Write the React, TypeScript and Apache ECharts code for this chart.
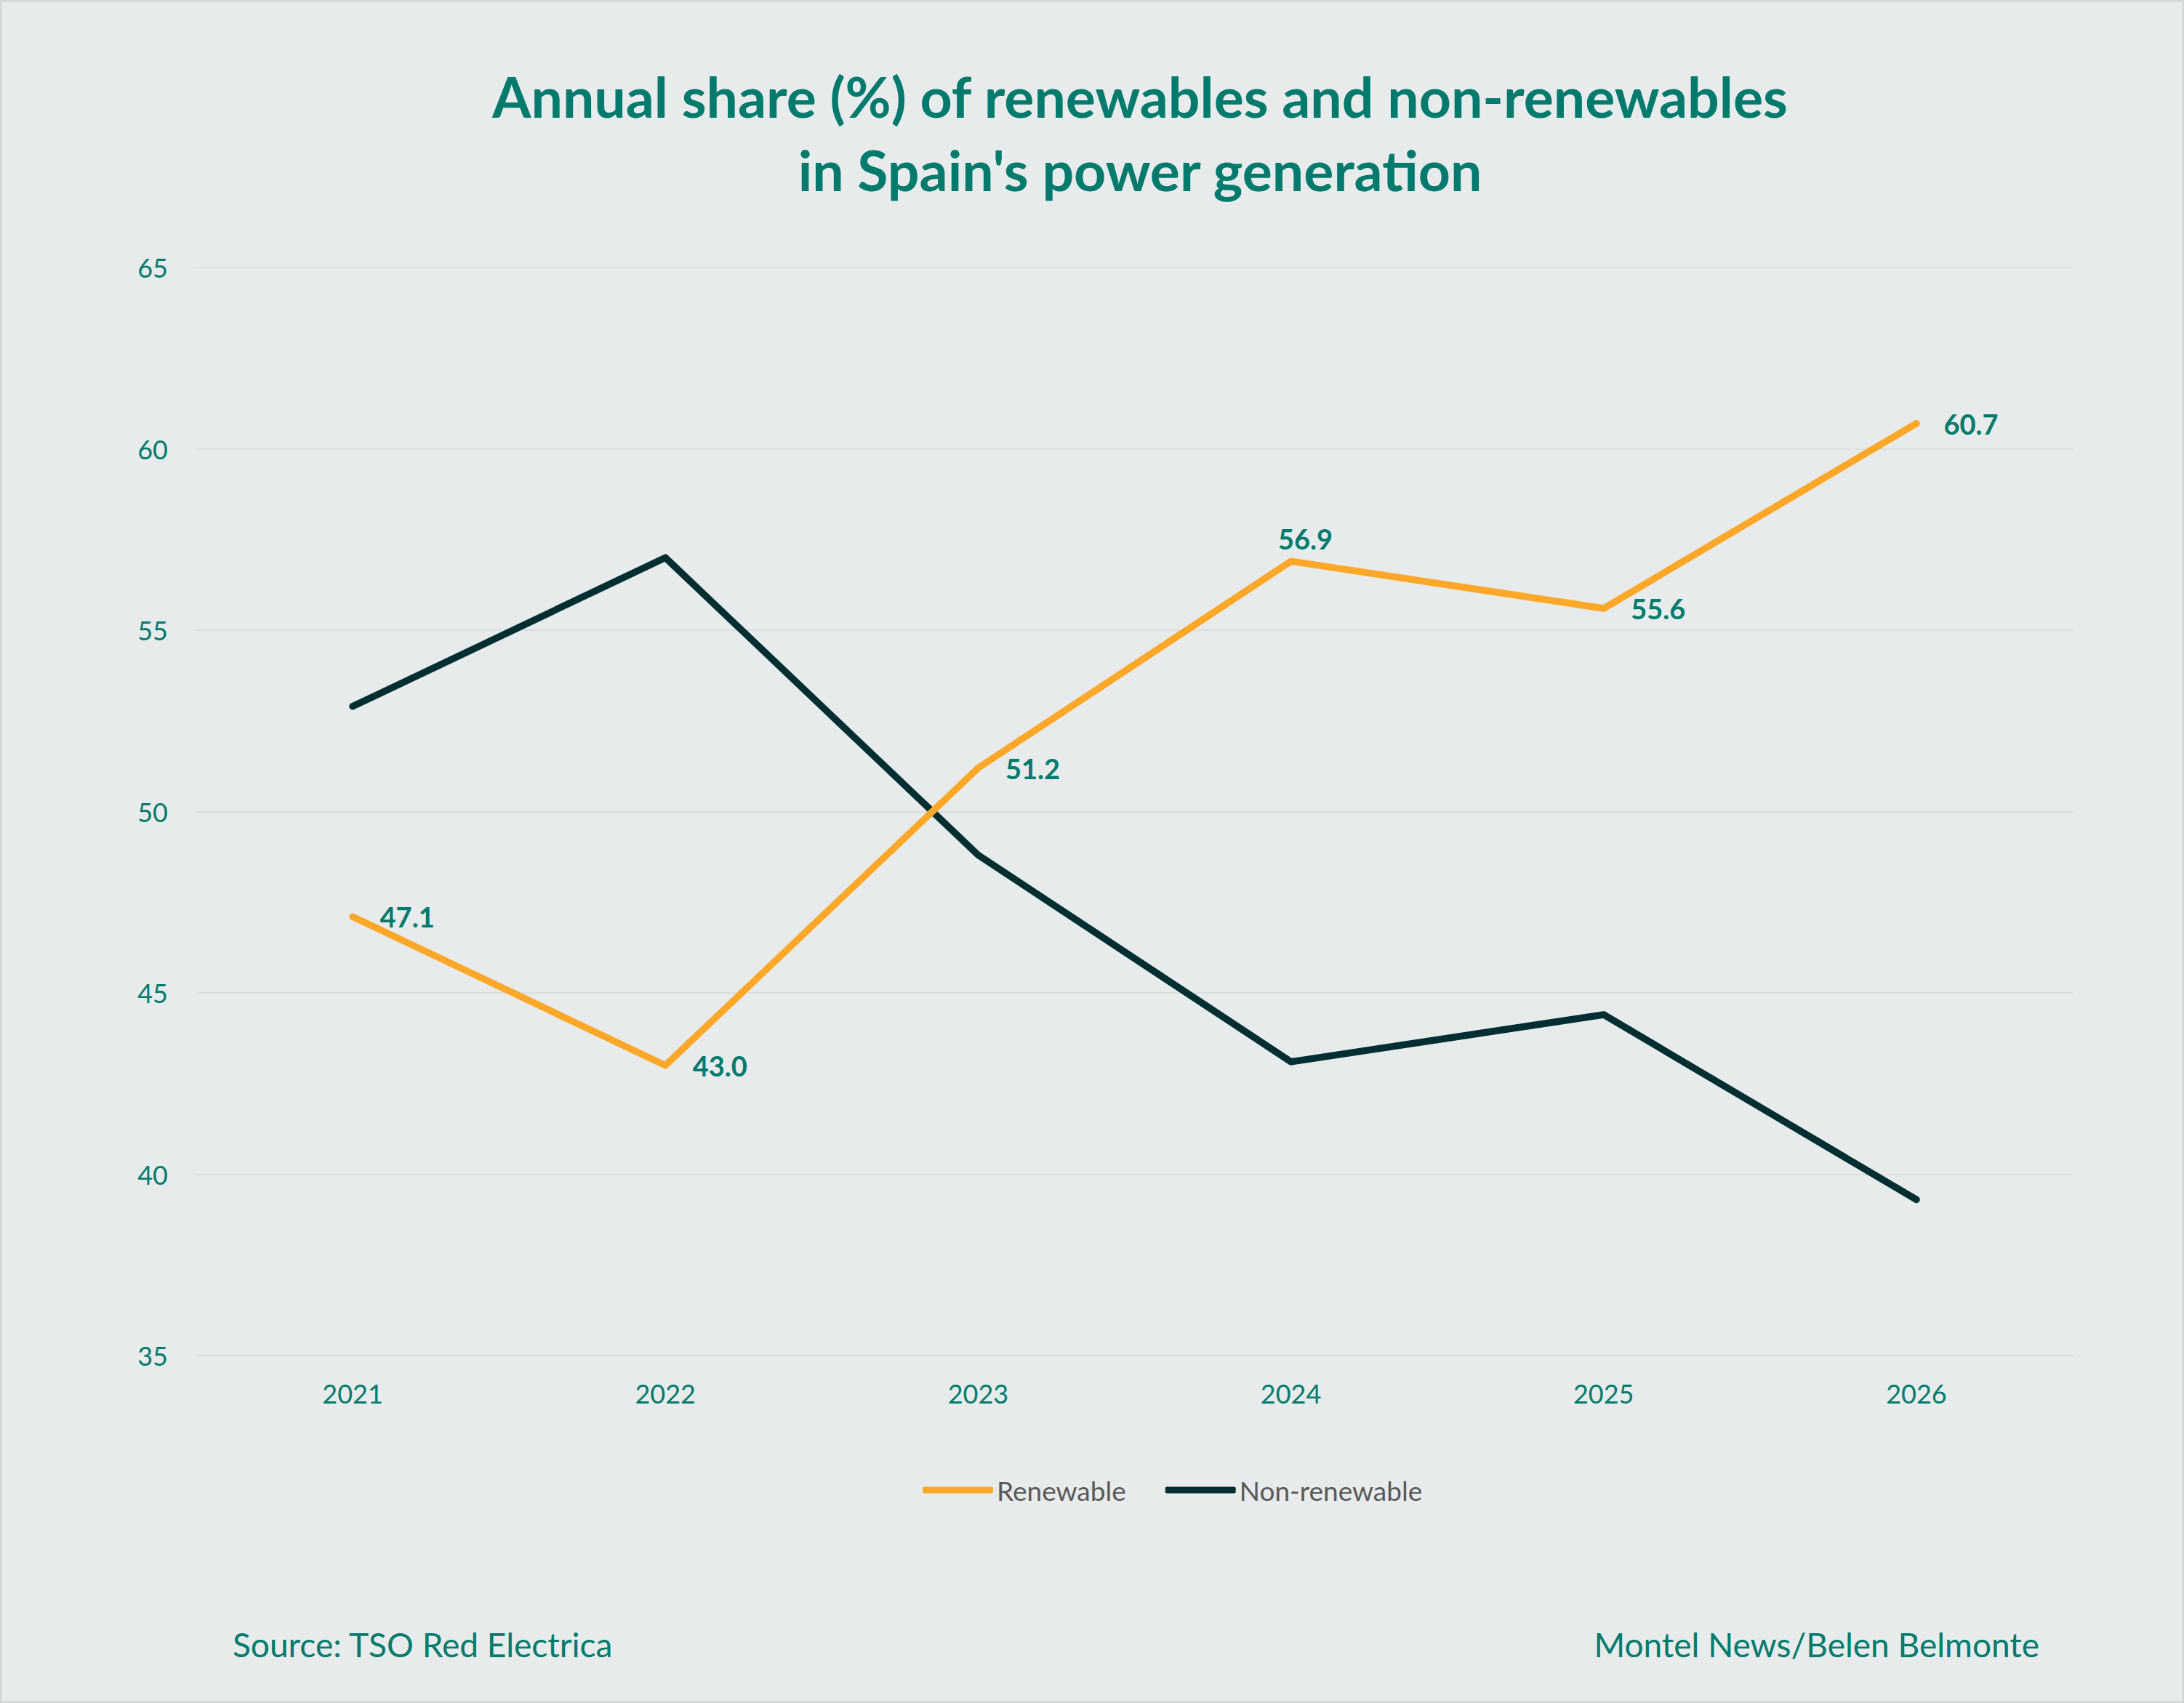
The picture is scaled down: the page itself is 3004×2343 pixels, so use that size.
import React, { useEffect, useRef } from "react";
import * as echarts from "echarts";

const years = ["2021", "2022", "2023", "2024", "2025", "2026"];
const renewable = [47.1, 43.0, 51.2, 56.9, 55.6, 60.7];
const nonRenewable = [52.9, 57.0, 48.8, 43.1, 44.4, 39.3];
const titleLines = [
  "Annual share (%) of renewables and non-renewables",
  "in Spain's power generation",
];
const sourceText = "Source: TSO Red Electrica";
const creditText = "Montel News/Belen Belmonte";

const TEAL = "#007A6C";
const ORANGE = "#FEA82A";
const DARK = "#022E31";
const FONT = "Lato, 'Open Sans', sans-serif";

export default function App() {
  const ref = useRef<HTMLDivElement>(null);
  useEffect(() => {
    document.body.style.margin = "0";
    const chart = echarts.init(ref.current!, null, { renderer: "svg" });
    const renewableData = renewable.map((v, i) => {
      if (i === 3) {
        return {
          value: v,
          label: { position: "top", distance: 8, offset: [20, 0] },
        };
      }
      return { value: v };
    });
    chart.setOption({
      animation: false,
      backgroundColor: "#E7EBEB",
      textStyle: { fontFamily: FONT },
      grid: { left: 270, right: 153, top: 368, bottom: 478 },
      legend: {
        left: 1264,
        top: 2023,
        itemWidth: 97,
        itemHeight: 9,
        itemGap: 54,
        icon: "roundRect",
        textStyle: { color: "#595959", fontSize: 37, fontFamily: FONT, lineHeight: 44 },
        data: [
          { name: "Renewable", itemStyle: { color: ORANGE } },
          { name: "Non-renewable", itemStyle: { color: DARK } },
        ],
      },
      xAxis: {
        type: "category",
        data: years,
        boundaryGap: true,
        axisLine: { lineStyle: { color: "#D9D9D9", width: 2 } },
        axisTick: { show: false },
        axisLabel: { color: TEAL, fontSize: 36, margin: 34, fontFamily: FONT },
      },
      yAxis: {
        type: "value",
        min: 35,
        max: 65,
        interval: 5,
        axisLine: { show: false },
        axisTick: { show: false },
        splitLine: { lineStyle: { color: "#D6DADA", width: 1.5 } },
        axisLabel: { color: TEAL, fontSize: 36, margin: 39, fontFamily: FONT },
      },
      series: [
        {
          name: "Renewable",
          type: "line",
          data: renewableData,
          symbol: "circle",
          symbolSize: 9,
          itemStyle: { color: ORANGE },
          lineStyle: { color: ORANGE, width: 9.5, cap: "round", join: "round" },
          label: {
            show: true,
            position: "right",
            distance: 33,
            color: TEAL,
            fontSize: 38,
            fontWeight: "bold",
            fontFamily: FONT,
            formatter: (p: any) => Number(p.value).toFixed(1),
          },
          z: 3,
        },
        {
          name: "Non-renewable",
          type: "line",
          data: nonRenewable,
          symbol: "circle",
          symbolSize: 9,
          itemStyle: { color: DARK },
          lineStyle: { color: DARK, width: 9.5, cap: "round", join: "round" },
          z: 2,
        },
      ],
      graphic: [
        {
          type: "rect",
          shape: { x: 1, y: 1, width: 3002, height: 2341 },
          style: { fill: "none", stroke: "#D4D6D6", lineWidth: 3 },
          silent: true,
        },
        {
          type: "text",
          x: 1568,
          y: 132,
          style: {
            text: titleLines[0],
            fill: TEAL,
            font: `bold 77px ${FONT}`,
            textAlign: "center",
            textVerticalAlign: "middle",
          },
        },
        {
          type: "text",
          x: 1568,
          y: 233,
          style: {
            text: titleLines[1],
            fill: TEAL,
            font: `bold 77px ${FONT}`,
            textAlign: "center",
            textVerticalAlign: "middle",
          },
        },
        {
          type: "text",
          x: 320,
          y: 2262,
          style: {
            text: sourceText,
            fill: TEAL,
            font: `46px ${FONT}`,
            textAlign: "left",
            textVerticalAlign: "middle",
          },
        },
        {
          type: "text",
          x: 2805,
          y: 2262,
          style: {
            text: creditText,
            fill: TEAL,
            font: `46px ${FONT}`,
            textAlign: "right",
            textVerticalAlign: "middle",
          },
        },
      ],
    });
    return () => chart.dispose();
  }, []);
  return <div ref={ref} style={{ width: 3004, height: 2343 }} />;
}
